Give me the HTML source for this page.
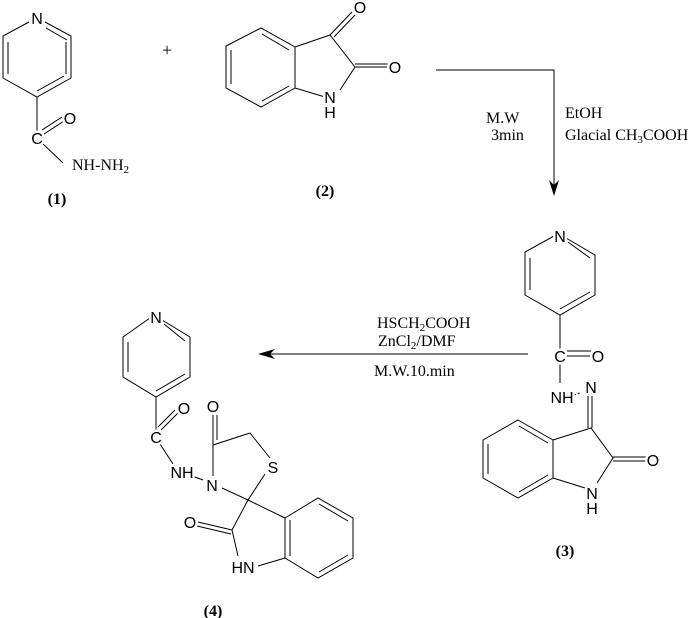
<!DOCTYPE html>
<html><head><meta charset="utf-8"><style>
body{margin:0;background:#fff}
svg{display:block}
.a text{font-family:"Liberation Sans",sans-serif;font-size:16px;stroke:#fff;stroke-width:5px;paint-order:stroke;stroke-linejoin:round}
.s{font-family:"Liberation Serif",serif;font-size:16px}
.b{font-family:"Liberation Serif",serif;font-size:16px;font-weight:bold}
</style></head><body>
<svg width="688" height="618" viewBox="0 0 688 618" xmlns="http://www.w3.org/2000/svg">
<g stroke="#000" stroke-width="1" fill="none">
<!-- compound 1 -->
<path d="M45,22 L71,36 L71,78 L37,97 L3,78 L3,36 L29,22"/>
<path d="M46,28 L67,40 M66,42 L66,74 M37,91 L64,76 M8,42 L8,74"/>
<path d="M37,97 L37,132 M42,130 L62,117 M44,134 L64,121 M42,143 L63,163"/>
<!-- compound 2 -->
<path d="M226,46 L261,28 L295,47 L295,88 L261,107 L226,88 Z"/>
<path d="M231,50 L231,84 M262,34 L289,50 M262,101 L289,86"/>
<path d="M295,47 L330,35 L355,67 L340,90 M295,88 L325,97 M330,35 L352,12 M334,37 L355,15 M355,67 L388,67 M355,64 L388,64"/>
<!-- arrow 1 -->
<path d="M436,70 L554,70 L554,192"/>
<!-- compound 3 -->
<path d="M554,236 L525,252 L525,295 L560,315 L595,295 L595,255 L566,238"/>
<path d="M530,258 L530,290 M560,309 L590,292 M568,242 L590,258"/>
<path d="M560,315 L560,349 M567,351 L591,351 M567,356 L591,356 M560,362 L560,383"/>
<path d="M574,395 L580,393" stroke-dasharray="2,2"/>
<path d="M588,396 L588,428 M592,396 L592,428"/>
<path d="M518,420 L553,440 L553,478 L518,498 L483,478 L483,440 Z"/>
<path d="M488,444 L488,474 M519,426 L548,443 M519,492 L548,475"/>
<path d="M553,440 L591,428 L613,458 L597,483 M553,478 L585,488 M613,457 L650,457 M613,461 L650,461"/>
<!-- arrow 2 -->
<path d="M528,354 L268,354"/>
<!-- compound 4 -->
<path d="M150,318 L123,337 L123,377 L156,397 L190,377 L190,337 L162,320"/>
<path d="M128,342 L128,372 M156,391 L185,374 M164,324 L185,341"/>
<path d="M156,397 L156,430 M161,430 L178,413 M158,427 L175,410 M160,444 L173,464 M192,476 L203,480"/>
<path d="M213,415 L213,445 L250,433 L270,458 M217,415 L217,440 M213,445 L213,476 M222,488 L248,500 L265,474 M248,500 L232,530 L238,556 M232,530 L198,522 M231,534 L197,526"/>
<path d="M285,518 L318,498 L353,518 L353,558 L318,578 L285,558 Z"/>
<path d="M248,500 L285,518 M258,566 L285,558 M290,520 L290,556 M319,504 L348,521 M319,572 L348,555"/>
</g>
<polygon points="554,196 549,180 554,185 559,180" fill="#000"/>
<polygon points="258,354 275,349 270,354 275,359" fill="#000"/>
<g class="a" fill="#000" text-anchor="middle">
<text x="37" y="24">N</text>
<text x="70" y="124">O</text>
<text x="37" y="144">C</text>
<text x="360" y="13">O</text>
<text x="395" y="73">O</text>
<text x="330" y="103">N</text>
<text x="330" y="118">H</text>
<text x="560" y="242">N</text>
<text x="560" y="362">C</text>
<text x="598" y="362">O</text>
<text x="562" y="403">NH</text>
<text x="591" y="393">N</text>
<text x="653" y="466">O</text>
<text x="592" y="499">N</text>
<text x="592" y="514">H</text>
<text x="156" y="323">N</text>
<text x="184" y="414">O</text>
<text x="156" y="443">C</text>
<text x="182" y="478">NH</text>
<text x="212" y="491">N</text>
<text x="213" y="412">O</text>
<text x="273" y="473">S</text>
<text x="190" y="528">O</text>
<text x="243" y="573">HN</text>
</g>
<g class="s" fill="#000">
<text x="72" y="170">NH-NH<tspan font-size="11" dy="3">2</tspan></text>
<text x="162" y="56" font-size="18">+</text>
<text x="486" y="123">M.W</text>
<text x="491" y="140">3min</text>
<text x="565" y="118">EtOH</text>
<text x="565" y="140">Glacial CH<tspan font-size="11" dy="3">3</tspan><tspan dy="-3">COOH</tspan></text>
<text x="377" y="328">HSCH<tspan font-size="11" dy="3">2</tspan><tspan dy="-3">COOH</tspan></text>
<text x="378" y="346">ZnCl<tspan font-size="11" dy="3">2</tspan><tspan dy="-3">/DMF</tspan></text>
<text x="374" y="376">M.W.10.min</text>
</g>
<g class="b" fill="#000" text-anchor="middle">
<text x="57" y="204">(1)</text>
<text x="325" y="196">(2)</text>
<text x="565" y="556">(3)</text>
<text x="213" y="616">(4)</text>
</g>
</svg>
</body></html>
